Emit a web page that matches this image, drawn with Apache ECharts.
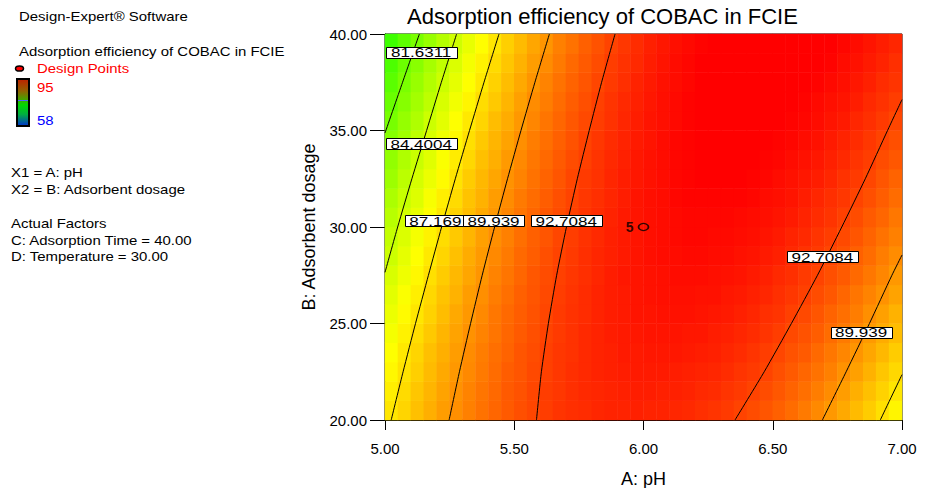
<!DOCTYPE html>
<html>
<head>
<meta charset="utf-8">
<title>Adsorption efficiency of COBAC in FCIE</title>
<script src="https://cdn.jsdelivr.net/npm/echarts@6/dist/echarts.min.js"></script>
<style>
    html, body { margin: 0; padding: 0; background: #fff; }
    #main { width: 933px; height: 488px; }
</style>
</head>
<body>
<div id="main"></div>
<script>
// cell centres of the response grid (A: pH across, B: dosage up)
var phCells = [5.025, 5.075, 5.125, 5.175, 5.225, 5.275, 5.325, 5.375, 5.425, 5.475,
    5.525, 5.575, 5.625, 5.675, 5.725, 5.775, 5.825, 5.875, 5.925, 5.975,
    6.025, 6.075, 6.125, 6.175, 6.225, 6.275, 6.325, 6.375, 6.425, 6.475,
    6.525, 6.575, 6.625, 6.675, 6.725, 6.775, 6.825, 6.875, 6.925, 6.975];
var doseCells = [20.5, 21.5, 22.5, 23.5, 24.5, 25.5, 26.5, 27.5, 28.5, 29.5,
    30.5, 31.5, 32.5, 33.5, 34.5, 35.5, 36.5, 37.5, 38.5, 39.5];

// adsorption efficiency (%), one row per dosage (bottom row first)
var effGrid = [
    [87.1, 87.7, 88.4, 89.0, 89.6, 90.1, 90.6, 91.1, 91.5, 91.9, 92.3, 92.6, 92.9, 93.2, 93.4, 93.5, 93.7, 93.8, 93.8, 93.9, 93.8, 93.8, 93.7, 93.6, 93.4, 93.2, 93.0, 92.7, 92.4, 92.1, 91.7, 91.3, 90.8, 90.3, 89.8, 89.2, 88.6, 88.0, 87.3, 86.6],
    [86.8, 87.5, 88.2, 88.8, 89.4, 90.0, 90.5, 91.0, 91.4, 91.9, 92.2, 92.6, 92.9, 93.1, 93.4, 93.6, 93.7, 93.8, 93.9, 94.0, 94.0, 93.9, 93.9, 93.8, 93.6, 93.5, 93.2, 93.0, 92.7, 92.4, 92.0, 91.6, 91.2, 90.7, 90.2, 89.6, 89.0, 88.4, 87.8, 87.1],
    [86.5, 87.2, 87.9, 88.6, 89.2, 89.8, 90.3, 90.8, 91.3, 91.8, 92.1, 92.5, 92.8, 93.1, 93.4, 93.6, 93.8, 93.9, 94.0, 94.1, 94.1, 94.1, 94.0, 93.9, 93.8, 93.7, 93.5, 93.2, 93.0, 92.7, 92.3, 91.9, 91.5, 91.1, 90.6, 90.0, 89.5, 88.9, 88.2, 87.6],
    [86.2, 87.0, 87.7, 88.4, 89.0, 89.6, 90.2, 90.7, 91.2, 91.6, 92.1, 92.4, 92.8, 93.1, 93.3, 93.6, 93.8, 93.9, 94.1, 94.1, 94.2, 94.2, 94.2, 94.1, 94.0, 93.9, 93.7, 93.5, 93.2, 92.9, 92.6, 92.2, 91.9, 91.4, 90.9, 90.4, 89.9, 89.3, 88.7, 88.0],
    [85.9, 86.7, 87.4, 88.1, 88.8, 89.4, 90.0, 90.5, 91.0, 91.5, 91.9, 92.3, 92.7, 93.0, 93.3, 93.6, 93.8, 94.0, 94.1, 94.2, 94.3, 94.3, 94.3, 94.2, 94.2, 94.0, 93.9, 93.7, 93.5, 93.2, 92.9, 92.5, 92.2, 91.8, 91.3, 90.8, 90.3, 89.7, 89.1, 88.5],
    [85.6, 86.4, 87.1, 87.8, 88.5, 89.2, 89.8, 90.3, 90.9, 91.4, 91.8, 92.2, 92.6, 93.0, 93.3, 93.5, 93.8, 94.0, 94.1, 94.3, 94.3, 94.4, 94.4, 94.4, 94.3, 94.2, 94.1, 93.9, 93.7, 93.4, 93.2, 92.8, 92.5, 92.1, 91.6, 91.2, 90.7, 90.1, 89.5, 88.9],
    [85.3, 86.1, 86.8, 87.6, 88.3, 88.9, 89.6, 90.1, 90.7, 91.2, 91.7, 92.1, 92.5, 92.9, 93.2, 93.5, 93.8, 94.0, 94.1, 94.3, 94.4, 94.5, 94.5, 94.5, 94.4, 94.4, 94.2, 94.1, 93.9, 93.7, 93.4, 93.1, 92.8, 92.4, 92.0, 91.5, 91.0, 90.5, 90.0, 89.4],
    [84.9, 85.7, 86.5, 87.3, 88.0, 88.7, 89.3, 89.9, 90.5, 91.0, 91.5, 92.0, 92.4, 92.8, 93.1, 93.4, 93.7, 94.0, 94.2, 94.3, 94.4, 94.5, 94.6, 94.6, 94.6, 94.5, 94.4, 94.3, 94.1, 93.9, 93.6, 93.4, 93.0, 92.7, 92.3, 91.9, 91.4, 90.9, 90.4, 89.8],
    [84.5, 85.4, 86.2, 87.0, 87.7, 88.4, 89.1, 89.7, 90.3, 90.8, 91.4, 91.8, 92.3, 92.7, 93.0, 93.4, 93.7, 93.9, 94.1, 94.3, 94.5, 94.6, 94.6, 94.7, 94.7, 94.6, 94.6, 94.4, 94.3, 94.1, 93.9, 93.6, 93.3, 93.0, 92.6, 92.2, 91.7, 91.3, 90.7, 90.2],
    [84.2, 85.0, 85.9, 86.7, 87.4, 88.1, 88.8, 89.5, 90.1, 90.6, 91.2, 91.7, 92.1, 92.6, 92.9, 93.3, 93.6, 93.9, 94.1, 94.3, 94.5, 94.6, 94.7, 94.8, 94.8, 94.7, 94.7, 94.6, 94.5, 94.3, 94.1, 93.8, 93.6, 93.2, 92.9, 92.5, 92.1, 91.6, 91.1, 90.6],
    [83.8, 84.7, 85.5, 86.3, 87.1, 87.8, 88.5, 89.2, 89.8, 90.4, 91.0, 91.5, 92.0, 92.4, 92.8, 93.2, 93.5, 93.8, 94.1, 94.3, 94.5, 94.6, 94.7, 94.8, 94.8, 94.8, 94.8, 94.7, 94.6, 94.5, 94.3, 94.1, 93.8, 93.5, 93.2, 92.8, 92.4, 91.9, 91.5, 90.9],
    [83.4, 84.3, 85.1, 86.0, 86.8, 87.5, 88.3, 88.9, 89.6, 90.2, 90.8, 91.3, 91.8, 92.3, 92.7, 93.1, 93.4, 93.7, 94.0, 94.3, 94.5, 94.6, 94.8, 94.9, 94.9, 94.9, 94.9, 94.9, 94.8, 94.6, 94.5, 94.3, 94.0, 93.7, 93.4, 93.1, 92.7, 92.3, 91.8, 91.3],
    [82.9, 83.9, 84.8, 85.6, 86.4, 87.2, 88.0, 88.7, 89.3, 90.0, 90.5, 91.1, 91.6, 92.1, 92.6, 93.0, 93.3, 93.7, 94.0, 94.2, 94.4, 94.6, 94.8, 94.9, 95.0, 95.0, 95.0, 95.0, 94.9, 94.8, 94.6, 94.4, 94.2, 94.0, 93.7, 93.3, 93.0, 92.6, 92.1, 91.6],
    [82.5, 83.5, 84.4, 85.2, 86.1, 86.9, 87.6, 88.4, 89.0, 89.7, 90.3, 90.9, 91.4, 91.9, 92.4, 92.8, 93.2, 93.6, 93.9, 94.2, 94.4, 94.6, 94.8, 94.9, 95.0, 95.1, 95.1, 95.1, 95.0, 94.9, 94.8, 94.6, 94.4, 94.2, 93.9, 93.6, 93.2, 92.9, 92.4, 92.0],
    [82.1, 83.0, 84.0, 84.9, 85.7, 86.5, 87.3, 88.1, 88.8, 89.4, 90.1, 90.7, 91.2, 91.7, 92.2, 92.7, 93.1, 93.5, 93.8, 94.1, 94.3, 94.6, 94.8, 94.9, 95.0, 95.1, 95.1, 95.1, 95.1, 95.0, 94.9, 94.8, 94.6, 94.4, 94.1, 93.8, 93.5, 93.1, 92.7, 92.3],
    [81.6, 82.6, 83.5, 84.5, 85.3, 86.2, 87.0, 87.7, 88.5, 89.1, 89.8, 90.4, 91.0, 91.5, 92.0, 92.5, 92.9, 93.3, 93.7, 94.0, 94.3, 94.5, 94.7, 94.9, 95.0, 95.1, 95.2, 95.2, 95.2, 95.1, 95.1, 94.9, 94.8, 94.6, 94.3, 94.1, 93.7, 93.4, 93.0, 92.6],
    [81.1, 82.1, 83.1, 84.0, 84.9, 85.8, 86.6, 87.4, 88.1, 88.8, 89.5, 90.2, 90.7, 91.3, 91.8, 92.3, 92.8, 93.2, 93.6, 93.9, 94.2, 94.5, 94.7, 94.9, 95.0, 95.1, 95.2, 95.3, 95.3, 95.2, 95.2, 95.1, 94.9, 94.7, 94.5, 94.3, 94.0, 93.6, 93.3, 92.9],
    [80.6, 81.7, 82.7, 83.6, 84.5, 85.4, 86.2, 87.0, 87.8, 88.5, 89.2, 89.9, 90.5, 91.1, 91.6, 92.1, 92.6, 93.0, 93.4, 93.8, 94.1, 94.4, 94.6, 94.8, 95.0, 95.1, 95.2, 95.3, 95.3, 95.3, 95.3, 95.2, 95.1, 94.9, 94.7, 94.5, 94.2, 93.9, 93.5, 93.2],
    [80.1, 81.2, 82.2, 83.2, 84.1, 85.0, 85.9, 86.7, 87.5, 88.2, 88.9, 89.6, 90.2, 90.8, 91.4, 91.9, 92.4, 92.9, 93.3, 93.6, 94.0, 94.3, 94.6, 94.8, 95.0, 95.1, 95.3, 95.3, 95.4, 95.4, 95.4, 95.3, 95.2, 95.0, 94.9, 94.6, 94.4, 94.1, 93.8, 93.4],
    [79.6, 80.7, 81.7, 82.7, 83.7, 84.6, 85.5, 86.3, 87.1, 87.9, 88.6, 89.3, 89.9, 90.6, 91.1, 91.7, 92.2, 92.7, 93.1, 93.5, 93.9, 94.2, 94.5, 94.7, 94.9, 95.1, 95.2, 95.3, 95.4, 95.4, 95.4, 95.4, 95.3, 95.2, 95.0, 94.8, 94.6, 94.3, 94.0, 93.7]
];

// contour lines, [pH, dosage] points
var contour81 = [[5.133, 40], [5.068, 37.5], [5.0, 34.87]];
var contour84 = [[5.277, 40], [5.218, 37.5], [5.161, 35], [5.104, 32.5], [5.049, 30], [5.0, 27.65]];
var contour87L = [[5.441, 40], [5.383, 37.5], [5.327, 35], [5.272, 32.5], [5.219, 30], [5.168, 27.5], [5.118, 25], [5.070, 22.5], [5.024, 20]];
var contour87R = [[6.916, 20], [7.0, 22.35]];
var contour89L = [[5.636, 40], [5.580, 37.5], [5.526, 35], [5.474, 32.5], [5.424, 30], [5.376, 27.5], [5.331, 25], [5.288, 22.5], [5.248, 20]];
var contour89R = [[6.692, 20], [6.784, 22.5], [6.874, 25], [6.961, 27.5], [7.0, 28.55]];
var contour92L = [[5.890, 40], [5.838, 37.5], [5.790, 35], [5.744, 32.5], [5.702, 30], [5.664, 27.5], [5.632, 25], [5.605, 22.5], [5.586, 20]];
var contour92R = [[6.354, 20], [6.467, 22.5], [6.572, 25], [6.673, 27.5], [6.767, 30], [6.858, 32.5], [6.944, 35], [7.0, 36.6]];

// contour value labels
var labelText = ['81.6311', '84.4004', '87.169', '89.939', '92.7084', '92.7084', '89.939'];
var labelPh = [5.140, 5.140, 5.195, 5.420, 5.701, 6.692, 6.842];
var labelDose = [39.04, 34.30, 30.30, 30.30, 30.30, 28.44, 24.52];

// design point (centre point, 5 replicates)
var designPh = [6.0];
var designDose = [30.0];
var designReps = [5];

var xTicks = [5.0, 7.0, 0.5];   // min, max, step
var yTicks = [20, 40, 5];

var FONT = '"Liberation Sans", Arial, sans-serif';

var heatData = [];
effGrid.forEach(function (row, j) {
    row.forEach(function (v, i) {
        heatData.push([i, j, v]);
    });
});

var contours = [contour81, contour84, contour87L, contour87R, contour89L, contour89R, contour92L, contour92R];
var lineSeries = contours.map(function (pts) {
    return {
        type: 'line',
        xAxisIndex: 0,
        yAxisIndex: 0,
        data: pts,
        symbol: 'none',
        smooth: 0.2,
        clip: true,
        silent: true,
        lineStyle: {color: '#000', width: 1},
        z: 3
    };
});

var labelData = labelText.map(function (t, i) {
    return [labelPh[i], labelDose[i], i];
});

// left-hand info panel (text is a bit wide in the original)
function infoText(str, x, y, color) {
    return {
        type: 'text',
        x: x,
        y: y,
        scaleX: 1.15,
        style: {
            text: str,
            font: '13px ' + FONT,
            fill: color || '#000',
            verticalAlign: 'middle'
        }
    };
}

var myChart = echarts.init(document.getElementById('main'), null, {renderer: 'svg'});

var option = {
    backgroundColor: '#fff',
    animation: false,
    title: {
        text: 'Adsorption efficiency of COBAC in FCIE',
        left: 402,
        top: 0,
        textStyle: {fontSize: 22, fontWeight: 'normal', color: '#000', fontFamily: FONT}
    },
    grid: {
        left: 385,
        right: 31,
        top: 34,
        bottom: 68,
        outerBoundsMode: 'none',
        containLabel: false,
        show: true,
        borderColor: '#000',
        borderWidth: 1,
        backgroundColor: 'transparent'
    },
    xAxis: [{
        type: 'value',
        min: xTicks[0],
        max: xTicks[1],
        interval: xTicks[2],
        position: 'bottom',
        name: 'A: pH',
        nameLocation: 'middle',
        nameGap: 50,
        nameTextStyle: {fontSize: 18, color: '#000', fontFamily: FONT},
        axisLine: {onZero: false, lineStyle: {color: '#000', width: 1}},
        axisTick: {length: 10, lineStyle: {color: '#000'}},
        axisLabel: {
            margin: 21, fontSize: 15, color: '#000', fontFamily: FONT,
            formatter: function (v) { return v.toFixed(2); }
        },
        splitLine: {show: false}
    }, {
        type: 'category',
        data: phCells,
        show: false
    }],
    yAxis: [{
        type: 'value',
        min: yTicks[0],
        max: yTicks[1],
        interval: yTicks[2],
        position: 'left',
        name: 'B: Adsorbent dosage',
        nameLocation: 'middle',
        nameGap: 67,
        nameTextStyle: {fontSize: 18, color: '#000', fontFamily: FONT},
        axisLine: {onZero: false, lineStyle: {color: '#000', width: 1}},
        axisTick: {length: 15, lineStyle: {color: '#000'}},
        axisLabel: {
            margin: 18, fontSize: 15, color: '#000', fontFamily: FONT,
            formatter: function (v) { return v.toFixed(2); }
        },
        splitLine: {show: false}
    }, {
        type: 'category',
        data: doseCells,
        show: false
    }],
    visualMap: {
        type: 'continuous',
        show: false,
        seriesIndex: 0,
        dimension: 2,
        min: 60,
        max: 95,
        inRange: {color: ['#0000ff', '#00ffff', '#00ff00', '#ffff00', '#ff0000']}
    },
    graphic: [
        infoText('Design-Expert® Software', 19, 16.5),
        infoText('Adsorption efficiency of COBAC in FCIE', 19, 51.5),
        {
            type: 'ellipse',
            shape: {cx: 19.5, cy: 68.5, rx: 4, ry: 2.6},
            style: {fill: '#ff0000', stroke: '#000', lineWidth: 1.5}
        },
        infoText('Design Points', 37, 68, '#ff0000'),
        {
            type: 'rect',
            shape: {x: 17, y: 79, width: 12, height: 47},
            style: {
                fill: {
                    type: 'linear', x: 0, y: 0, x2: 0, y2: 1,
                    colorStops: [
                        {offset: 0, color: '#c02000'},
                        {offset: 0.25, color: '#946000'},
                        {offset: 0.45, color: '#40a800'},
                        {offset: 0.55, color: '#00d800'},
                        {offset: 0.75, color: '#00b040'},
                        {offset: 1, color: '#0030d0'}
                    ]
                },
                stroke: '#000',
                lineWidth: 2
            }
        },
        {
            type: 'line',
            shape: {x1: 18, y1: 100.5, x2: 28, y2: 100.5},
            style: {stroke: '#5060ff', lineWidth: 1}
        },
        infoText('95', 37, 87, '#ff0000'),
        infoText('58', 37, 120.5, '#0000ff'),
        infoText('X1 = A: pH', 11, 172),
        infoText('X2 = B: Adsorbent dosage', 11, 189),
        infoText('Actual Factors', 11, 223),
        infoText('C: Adsorption Time = 40.00', 11, 240),
        infoText('D: Temperature = 30.00', 11, 256.5)
    ],
    series: [{
        type: 'heatmap',
        xAxisIndex: 1,
        yAxisIndex: 1,
        data: heatData,
        silent: true,
        itemStyle: {borderWidth: 0},
        z: 1
    }].concat(lineSeries).concat([{
        type: 'custom',
        xAxisIndex: 0,
        yAxisIndex: 0,
        data: labelData,
        encode: {x: 0, y: 1},
        silent: true,
        z: 5,
        renderItem: function (params, api) {
            var p = api.coord([api.value(0), api.value(1)]);
            var txt = labelText[api.value(2)];
            var w = txt.length > 6 ? 71 : 61;
            return {
                type: 'group',
                children: [{
                    type: 'rect',
                    shape: {x: Math.round(p[0] - w / 2) + 0.5, y: Math.round(p[1] - 6) + 0.5, width: w, height: 11},
                    style: {fill: '#fff', stroke: '#000', lineWidth: 1}
                }, {
                    type: 'text',
                    x: p[0],
                    y: p[1] + 0.5,
                    scaleX: 1.42,
                    style: {
                        text: txt,
                        font: '12px ' + FONT,
                        fill: '#000',
                        align: 'center',
                        verticalAlign: 'middle'
                    }
                }]
            };
        }
    }, {
        type: 'scatter',
        xAxisIndex: 0,
        yAxisIndex: 0,
        data: designPh.map(function (ph, i) { return [ph, designDose[i], designReps[i]]; }),
        symbol: 'circle',
        symbolSize: [10, 7],
        silent: true,
        z: 6,
        itemStyle: {color: 'rgba(0,0,0,0)', borderColor: '#000', borderWidth: 1.5},
        label: {
            show: true,
            position: 'left',
            distance: 4,
            fontSize: 14,
            fontWeight: 'bold',
            color: '#000',
            fontFamily: FONT,
            formatter: function (p) { return String(p.value[2]); }
        }
    }])
};

myChart.setOption(option);
</script>
</body>
</html>
